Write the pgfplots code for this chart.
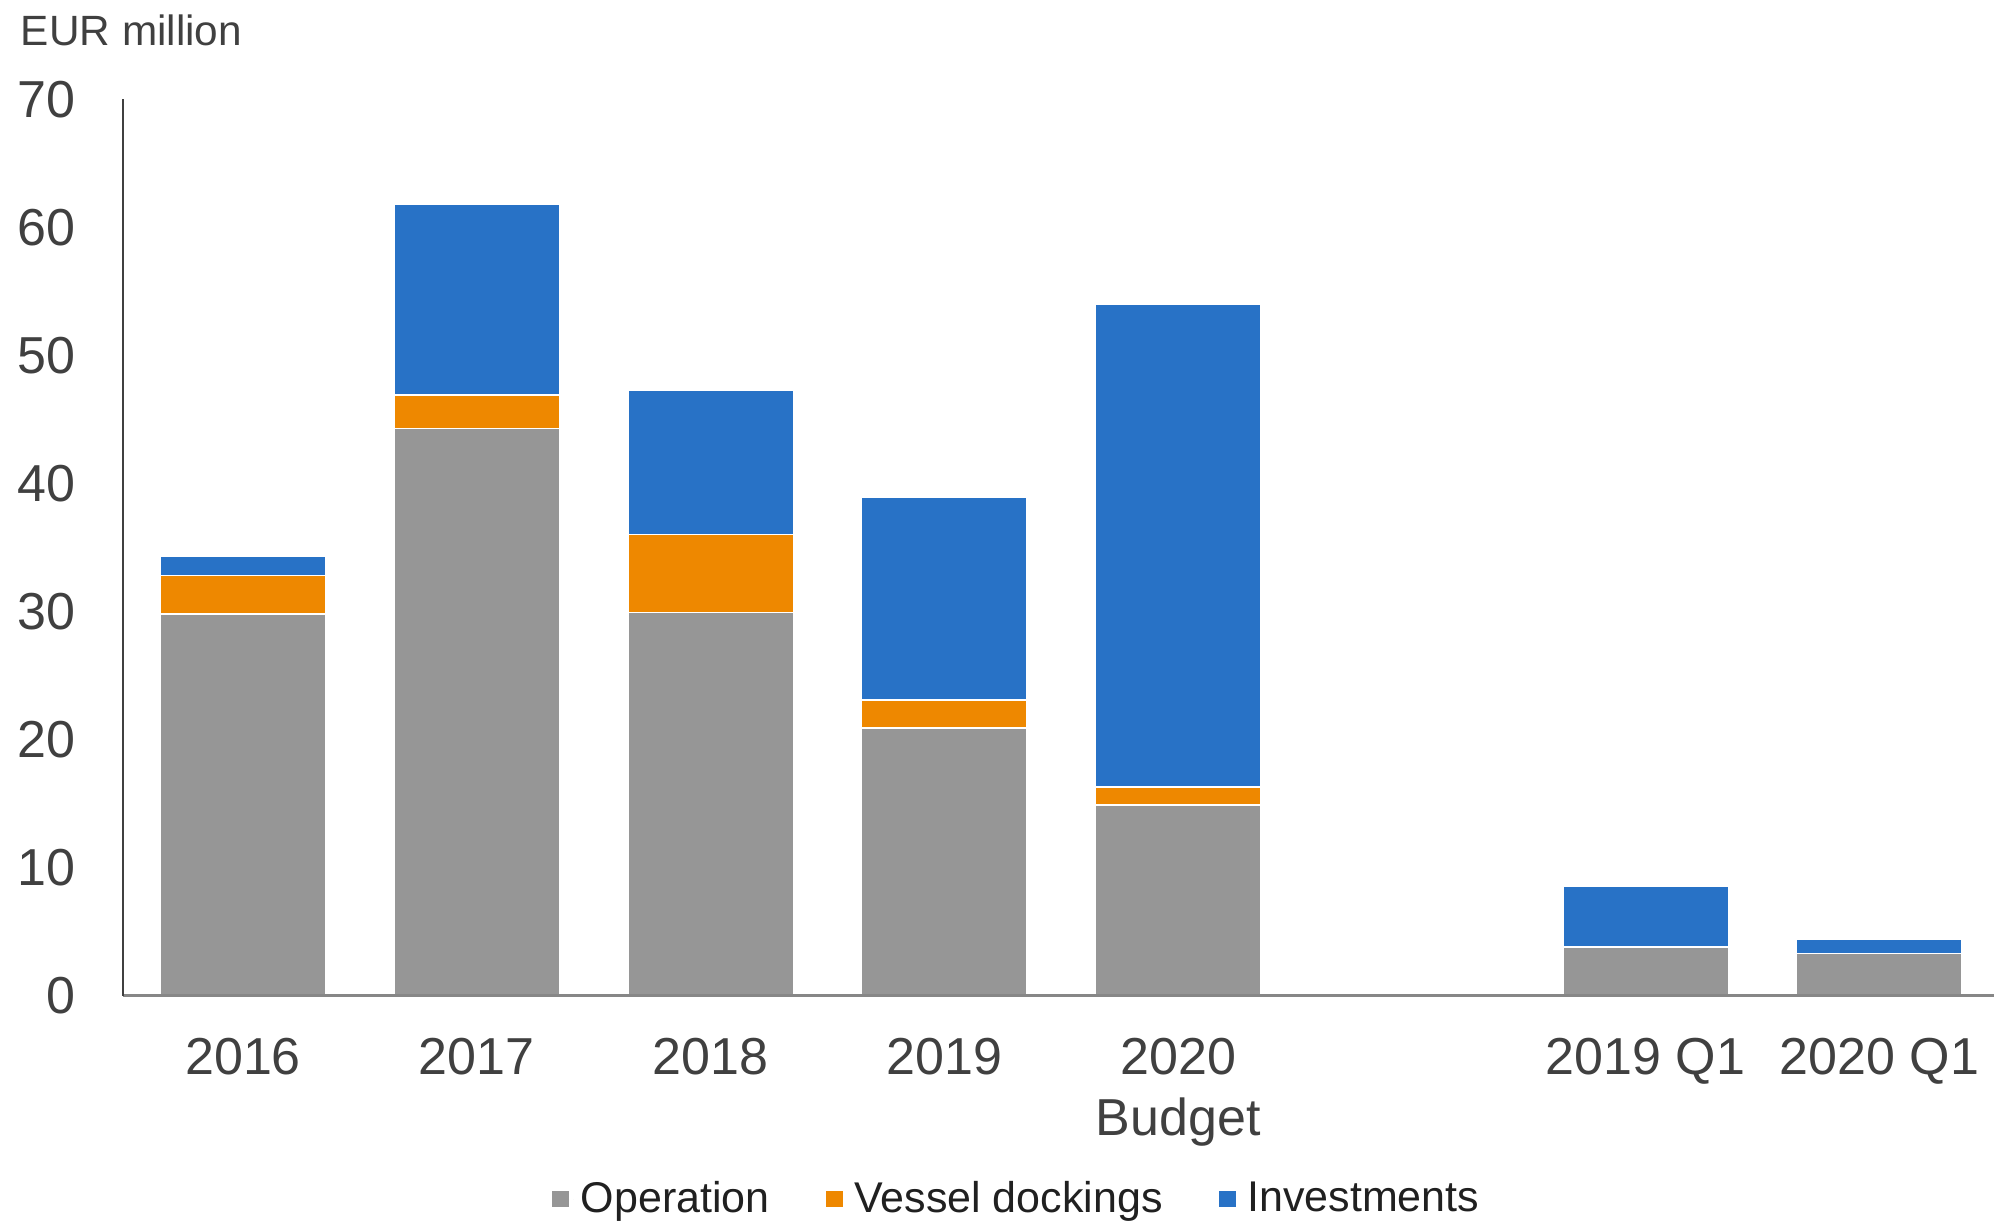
\documentclass[border=0pt]{standalone}
\usepackage{pgfplots}
\pgfplotsset{compat=1.18}
\usepackage{fontspec}
\setmainfont{Liberation Sans}
\definecolor{cop}{HTML}{969696}
\definecolor{cdock}{HTML}{EE8800}
\definecolor{cinv}{HTML}{2872C6}
\definecolor{txt}{HTML}{404040}
\definecolor{ltxt}{HTML}{202020}
\begin{document}
\begin{tikzpicture}
\path[use as bounding box] (-37pt,-67.9pt) rectangle (561.2pt,298.7pt);
\begin{axis}[
  at={(0pt,0pt)}, anchor=south west,
  scale only axis, width=561.2pt, height=268.9pt,
  xmin=-0.512, xmax=7.49, ymin=0, ymax=70,
  ybar stacked, bar width=0.707,
  axis lines*=left,
  axis on top,
  x axis line style={draw=cop!90!black, line width=1pt},
  y axis line style={draw=txt, line width=0.5pt},
  major tick length=0pt,
  xtick={0,1,2,3,4,6,7},
  xticklabels={2016,2017,2018,2019,{2020\\Budget},2019 Q1,2020 Q1},
  ytick={0,10,...,70},
  /pgf/number format/assume math mode=true,
  xticklabel style={font=\fontsize{15.6}{18.3}\selectfont, text=txt, align=center, anchor=north, inner sep=0pt, yshift=-12.5pt},
  yticklabel style={font=\fontsize{15.6}{18.3}\selectfont, text=txt, anchor=east, inner sep=0pt, xshift=-14.1pt},
  legend columns=3,
  legend style={draw=none, at={(0.4785,-0.227)}, anchor=center, font=\fontsize{12.9}{15}\selectfont, text=ltxt,
    /tikz/every even column/.append style={column sep=14.5pt}},
  legend image code/.code={\fill[#1] (0pt,-2.7pt) rectangle (5.4pt,2.7pt); \path (5.4pt,0pt) -- (6.5pt,0pt);},
  every axis plot/.append style={draw=white, line width=0.4pt},
]
\addplot[fill=cop] coordinates {(0,29.8) (1,44.3) (2,29.9) (3,20.9) (4,14.9) (6,3.8) (7,3.3)};
\addplot[fill=cdock] coordinates {(0,3.0) (1,2.6) (2,6.1) (3,2.2) (4,1.4) (6,0) (7,0)};
\addplot[fill=cinv] coordinates {(0,1.5) (1,14.9) (2,11.3) (3,15.8) (4,37.7) (6,4.7) (7,1.1)};
\legend{Operation,Vessel dockings,Investments}
\end{axis}
\node[anchor=west, inner sep=0pt, text=txt, font=\fontsize{12.7}{15}\selectfont] at (-30.9pt,289.5pt) {EUR million};
\end{tikzpicture}
\end{document}
